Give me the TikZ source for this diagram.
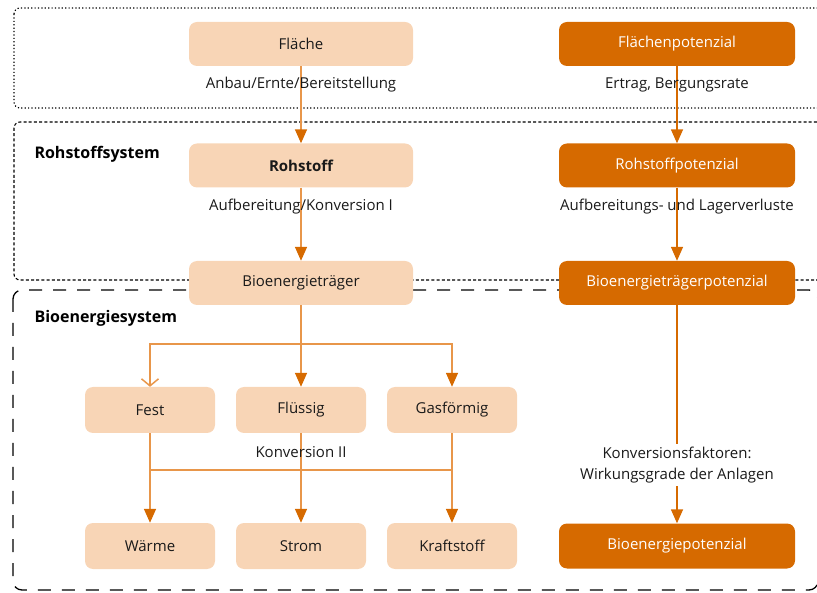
\documentclass[tikz,border=0pt]{standalone}
\usepackage{fontspec}
\setmainfont{Open Sans}
\usetikzlibrary{arrows.meta}
\definecolor{peach}{HTML}{F8D5B6}
\definecolor{burnt}{HTML}{D66A00}
\definecolor{shaft}{HTML}{E8964A}
\definecolor{ink}{HTML}{1A1A1A}
\tikzset{
  base/.style={rounded corners=8pt, minimum height=44pt, inner sep=0pt,
    font=\fontsize{15}{18}\selectfont},
  lightbox/.style={base, fill=peach, text=ink, minimum width=224pt},
  smallbox/.style={base, fill=peach, text=ink, minimum width=130pt, minimum height=46pt},
  darkbox/.style={base, fill=burnt, text=white, minimum width=236pt},
  lbl/.style={text=ink, font=\fontsize{15}{21}\selectfont, inner sep=1pt},
  sysname/.style={text=black, font=\bfseries\fontsize{16}{19}\selectfont, anchor=west},
  tipdark/.style={-{Triangle[length=14pt,width=12pt,color=burnt]}},
  lline/.style={draw=shaft, line width=1.5pt},
  rline/.style={draw=burnt, line width=1.5pt},
  frame/.style={draw=black, line width=0.9pt, rounded corners=6pt},
}
\begin{document}
\begin{tikzpicture}[x=1pt,y=-1pt]
\useasboundingbox (0,0) rectangle (817,593);

% system frames
\draw[frame, line width=1.2pt, dash pattern=on 1.2pt off 2.2pt] (14,8) rectangle (826,108);
\draw[frame, line width=1.1pt, dash pattern=on 3pt off 2.2pt] (14,122) rectangle (826,280);
\draw[frame, line width=1.3pt, dash pattern=on 13pt off 11pt, rounded corners=9pt] (13,290) rectangle (818,590);

\node[sysname] (rsys) at (31,154) {Rohstoffsystem};
\node[sysname] (bsys) at (31,318) {Bioenergiesystem};

% branch and merge points
\coordinate (split) at (301,344);
\coordinate (join) at (301,470);

\path
  (301,44)   node[lightbox] (flaeche) {Fläche}
  (677,44)   node[darkbox]  (flpot)   {Flächenpotenzial}
  (301,165.5) node[lightbox] (roh)    {\bfseries Rohstoff}
  (677,165.5) node[darkbox]  (rohpot) {Rohstoffpotenzial}
  (301,283)  node[lightbox] (bet)     {Bioenergieträger}
  (677,283)  node[darkbox]  (betpot)  {Bioenergieträgerpotenzial}
  (150,410)  node[smallbox] (fest)    {Fest}
  (301,410)  node[smallbox] (fluessig){Flüssig}
  (452,410)  node[smallbox] (gas)     {Gasförmig}
  (150,546)  node[smallbox] (waerme)  {Wärme}
  (301,546)  node[smallbox] (strom)   {Strom}
  (452,546)  node[smallbox] (kraft)   {Kraftstoff}
  (677,546)  node[darkbox, minimum height=45pt] (bepot) {Bioenergiepotenzial};

% connectors, left
\draw[lline, tipdark] (flaeche) -- (roh);
\draw[lline, tipdark] (roh) -- (bet);
\draw[lline] (bet) -- (split);
\draw[lline, tipdark] (split) -- (fluessig);
\draw[lline, -{Straight Barb[length=7pt,width=17pt,line width=1.5pt]}] (split) -| (fest);
\draw[lline, tipdark] (split) -| (gas);
\draw[lline, tipdark] (fest) -- (waerme);
\draw[lline, tipdark] (fluessig) -- (strom);
\draw[lline, tipdark] (gas) -- (kraft);
\draw[lline] (fest.south |- join) -- (gas.south |- join);

% connectors, right
\draw[rline, tipdark] (flpot) -- (rohpot);
\draw[rline, tipdark] (rohpot) -- (betpot);
\draw[rline, tipdark] (betpot) -- (bepot);

% step labels
\node[lbl] (l1) at (301,85)  {Anbau/Ernte/Bereitstellung};
\node[lbl] (l2) at (677,85)  {Ertrag, Bergungsrate};
\node[lbl] (l3) at (301,207) {Aufbereitung/Konversion I};
\node[lbl] (l4) at (677,207) {Aufbereitungs- und Lagerverluste};
\node[lbl] (l5) at (301,452) {Konversion II};
\node[lbl, fill=white, align=center, inner sep=3pt] (l6) at (677,465)
  {Konversionsfaktoren:\\Wirkungsgrade der Anlagen};
\end{tikzpicture}
\end{document}
